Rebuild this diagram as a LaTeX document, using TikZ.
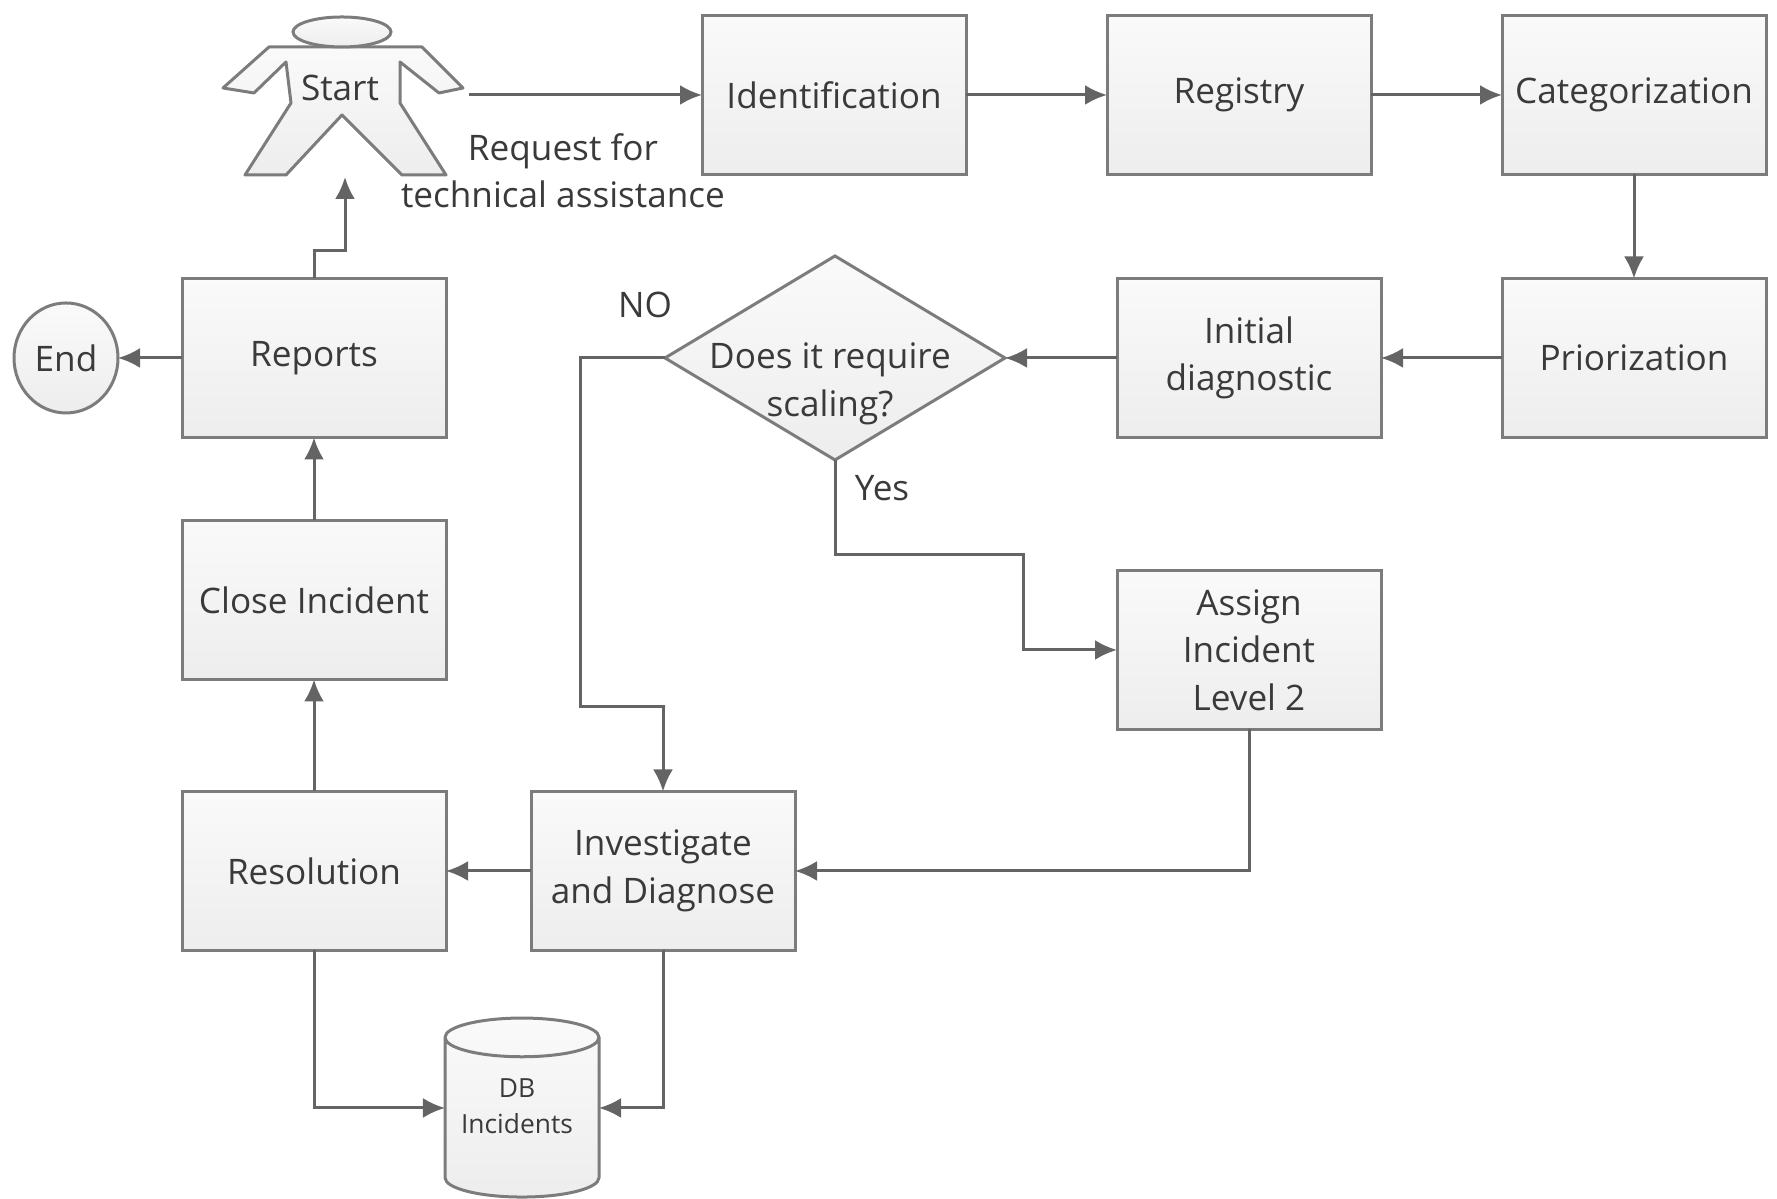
\documentclass[tikz,border=0pt]{standalone}
\usepackage{fontspec}
\setmainfont{Open Sans}
\usetikzlibrary{arrows.meta}
\usetikzlibrary{shapes.geometric}
\definecolor{edgegray}{HTML}{7C7C7C}
\definecolor{linegray}{HTML}{646464}
\definecolor{textgray}{HTML}{3A3A3A}
\tikzset{
	shapeline/.style={draw=edgegray,line width=0.03cm,outer sep=0pt,top color=white!98!black,bottom color=white!93!black},
	procbox/.style={shapeline,rectangle,minimum width=2.64cm,minimum height=1.59cm,align=center},
	decision/.style={shapeline,diamond,minimum width=3.40cm,minimum height=2.04cm,inner sep=0pt},
	endcircle/.style={shapeline,ellipse,minimum width=1.04cm,minimum height=1.10cm,inner sep=0pt},
	dbcylinder/.style={shapeline,cylinder,shape border rotate=90,aspect=0.8,minimum width=1.54cm,minimum height=1.79cm,inner sep=0pt},
	flow/.style={draw=linegray,line width=0.03cm,-{Latex[length=0.22cm,width=0.2cm]}},
	every node/.append style={text=textgray,font=\fontsize{10}{13.5}\selectfont},
}
\begin{document}
\begin{tikzpicture}
	\useasboundingbox (0,0) rectangle (17.77,11.99);

	% person
	\draw[shapeline,line join=round] (2.69,11.52) -- (4.22,11.52) -- (4.63,11.11) -- (4.39,11.06)
	-- (4.00,11.37) -- (4.00,10.96) -- (4.46,10.24) -- (4.02,10.24) -- (3.42,10.84)
	-- (2.86,10.24) -- (2.45,10.24) -- (2.91,10.96) -- (2.86,11.37) -- (2.54,11.06)
	-- (2.23,11.11) -- cycle;
	\draw[shapeline] (3.42,11.67) ellipse (0.49 and 0.15);
	\node (start) at (3.40,11.11) {Start};
	\coordinate (handR) at (4.69,11.04);
	\coordinate (startFoot) at (3.45,10.22);

	\node[procbox] (identification) at (8.34,11.04) {Identification};
	\node[procbox] (registry) at (12.39,11.04) {Registry};
	\node[procbox] (categorization) at (16.34,11.04) {Categorization};
	\node[procbox] (priorization) at (16.34,8.41) {Priorization};
	\node[procbox] (initial) at (12.49,8.41) {Initial\\diagnostic};
	\node[decision] (scaling) at (8.35,8.41) {};
	\node (scalingtext) at (8.30,8.15) [align=center] {Does it require\\scaling?};
	\node[procbox] (assign) at (12.49,5.49) {Assign\\Incident\\Level 2};
	\node[procbox] (reports) at (3.14,8.41) {Reports};
	\node[procbox] (close) at (3.14,5.99) {Close Incident};
	\node[procbox] (resolution) at (3.14,3.28) {Resolution};
	\node[procbox] (investigate) at (6.63,3.28) {Investigate\\and Diagnose};
	\node[dbcylinder] (db) at (5.22,0.81) {\phantom{DB}};
	\node (dbtext) at (5.17,0.93) [align=center,font=\fontsize{7.5}{10.3}\selectfont] {DB\\Incidents};
	\node[endcircle] (end) at (0.66,8.41) {End};

	\node (request) at (5.63,10.28) [align=center] {Request for\\technical assistance};
	\node (no) at (6.45,8.94) {NO};
	\node (yes) at (8.82,7.11) {Yes};

	\draw[flow] (handR) -- (identification);
	\draw[flow] (identification) -- (registry);
	\draw[flow] (registry) -- (categorization);
	\draw[flow] (categorization) -- (priorization);
	\draw[flow] (priorization) -- (initial);
	\draw[flow] (initial) -- (scaling);
	\draw[flow] (scaling.west) -- ++(-0.85,0) |- ++(0.85,-3.49) -| (investigate.north);
	\draw[flow] (scaling.south) |- ++(1.88,-0.95) |- (assign.west);
	\draw[flow] (assign.south) |- (investigate.east);
	\draw[flow] (investigate) -- (resolution);
	\draw[flow] (resolution) -- (close);
	\draw[flow] (close) -- (reports);
	\draw[flow] (reports) -- (end);
	\draw[flow] (reports.north) -- ++(0,0.28) -| (startFoot);
	\draw[flow] (resolution.south) |- ([yshift=0.10cm]db.west);
	\draw[flow] (investigate.south) |- ([yshift=0.10cm]db.east);
\end{tikzpicture}
\end{document}
